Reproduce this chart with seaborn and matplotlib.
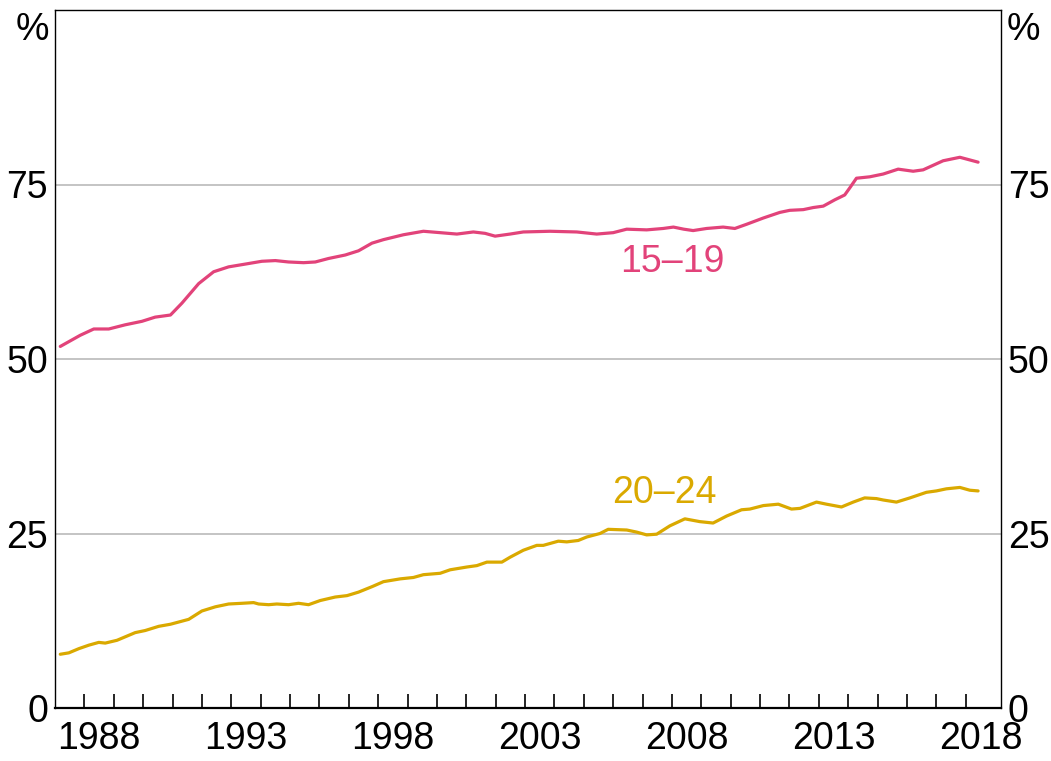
import numpy as np
import pandas as pd
import matplotlib
matplotlib.use("Agg")
import matplotlib.pyplot as plt
import seaborn as sns

# ---- data ----
years_1519 = [1987.18, 1987.86, 1988.32, 1988.83, 1989.39, 1989.96, 1990.41, 1990.93,
              1991.32, 1991.89, 1992.40, 1992.91, 1993.48, 1994.04, 1994.50, 1994.95,
              1995.46, 1995.86, 1996.31, 1996.88, 1997.33, 1997.79, 1998.18, 1998.86,
              1999.54, 2000.11, 2000.68, 2001.24, 2001.64, 2001.98, 2002.49, 2002.94,
              2003.85, 2004.76, 2005.44, 2006.00, 2006.46, 2007.14, 2007.70, 2008.05,
              2008.40, 2008.72, 2009.18, 2009.74, 2010.14, 2010.54, 2011.11, 2011.67,
              2012.01, 2012.47, 2012.81, 2013.15, 2013.54, 2013.88, 2014.05, 2014.28,
              2014.73, 2015.19, 2015.70, 2016.21, 2016.55, 2017.23, 2017.80, 2018.42]
values_1519 = [51.8, 53.4, 54.3, 54.3, 54.9, 55.4, 56.0, 56.3,
               58.0, 60.8, 62.5, 63.2, 63.6, 64.0, 64.1, 63.9,
               63.8, 63.9, 64.4, 64.9, 65.5, 66.6, 67.1, 67.8,
               68.3, 68.1, 67.9, 68.2, 68.0, 67.6, 67.9, 68.2,
               68.3, 68.2, 67.9, 68.1, 68.6, 68.5, 68.7, 68.9,
               68.6, 68.4, 68.7, 68.9, 68.7, 69.3, 70.2, 71.0,
               71.3, 71.4, 71.7, 71.9, 72.8, 73.5, 74.5, 75.9,
               76.1, 76.5, 77.2, 76.9, 77.1, 78.4, 78.9, 78.2]

years_2024 = [1987.18, 1987.47, 1987.81, 1988.15, 1988.49, 1988.71, 1989.11, 1989.73,
              1990.07, 1990.53, 1990.93, 1991.55, 1992.00, 1992.46, 1992.91, 1993.36,
              1993.76, 1993.93, 1994.27, 1994.55, 1994.95, 1995.29, 1995.63, 1996.03,
              1996.54, 1996.94, 1997.33, 1997.80, 1998.18, 1998.75, 1999.20, 1999.54,
              2000.11, 2000.45, 2001.02, 2001.36, 2001.70, 2002.21, 2002.49, 2002.94,
              2003.40, 2003.62, 2004.13, 2004.42, 2004.81, 2005.10, 2005.55, 2005.83,
              2006.46, 2006.80, 2007.14, 2007.48, 2007.93, 2008.44, 2008.95, 2009.40,
              2009.86, 2010.37, 2010.65, 2011.11, 2011.62, 2012.07, 2012.36, 2012.92,
              2013.26, 2013.77, 2014.17, 2014.56, 2014.96, 2015.19, 2015.64, 2016.10,
              2016.66, 2017.00, 2017.34, 2017.80, 2018.14, 2018.42]
values_2024 = [7.7, 7.9, 8.5, 9.0, 9.4, 9.3, 9.7, 10.8,
               11.1, 11.7, 12.0, 12.7, 13.9, 14.5, 14.9, 15.0,
               15.1, 14.9, 14.8, 14.9, 14.8, 15.0, 14.8, 15.4,
               15.9, 16.1, 16.6, 17.4, 18.1, 18.5, 18.7, 19.1,
               19.3, 19.8, 20.2, 20.4, 20.9, 20.9, 21.6, 22.6,
               23.3, 23.3, 23.9, 23.8, 24.0, 24.5, 25.0, 25.6,
               25.5, 25.2, 24.8, 24.9, 26.1, 27.1, 26.7, 26.5,
               27.5, 28.4, 28.5, 29.0, 29.2, 28.5, 28.6, 29.5,
               29.2, 28.8, 29.5, 30.1, 30.0, 29.8, 29.5, 30.1,
               30.9, 31.1, 31.4, 31.6, 31.2, 31.1]

series_names = ["15–19", "20–24"]
series_colors = ["#E2437A", "#DAA900"]
y_ticks = [0, 25, 50, 75]
y_tick_labels = ["0", "25", "50", "75"]
x_label_years = [1988, 1993, 1998, 2003, 2008, 2013, 2018]

df = pd.concat([
    pd.DataFrame({"year": years_1519, "value": values_1519, "series": series_names[0]}),
    pd.DataFrame({"year": years_2024, "value": values_2024, "series": series_names[1]}),
], ignore_index=True)

# ---- styling ----
sns.set_theme(style="white")
plt.rcParams["font.family"] = ["Liberation Sans", "DejaVu Sans"]
FS = 27

fig = plt.figure(figsize=(10.51, 7.61), dpi=100)
ax = fig.add_axes([55 / 1051, 1 - 708 / 761, (1001 - 55) / 1051, (708 - 10) / 761])

sns.lineplot(data=df, x="year", y="value", hue="series", palette=series_colors,
             hue_order=series_names, linewidth=2.3, legend=False, ax=ax, sort=False)

ax.set_xlim(1987.0, 2019.2)
ax.set_ylim(0, 100)
ax.set_xlabel("")
ax.set_ylabel("")

# gridlines
for yv in [25, 50, 75]:
    ax.axhline(yv, color="#b4b4b4", linewidth=1.1, zorder=0)

# spines
for side in ["left", "right", "top"]:
    ax.spines[side].set_visible(True)
    ax.spines[side].set_color("black")
    ax.spines[side].set_linewidth(1.0)
ax.spines["bottom"].set_visible(True)
ax.spines["bottom"].set_color("black")
ax.spines["bottom"].set_linewidth(1.6)

# x ticks: yearly inward ticks, labels centred in the year
ax.set_xticks(list(range(1988, 2019)))
ax.set_xticklabels([])
ax.tick_params(axis="x", which="major", direction="in", length=10, width=1.2,
               color="black", bottom=True, top=False)
ax.set_xticks([y + 0.5 for y in x_label_years], minor=True)
ax.set_xticklabels([str(y) for y in x_label_years], minor=True)
ax.tick_params(axis="x", which="minor", length=0, labelsize=FS, pad=9.5, labelcolor="black")

# y ticks on both sides, no tick marks
ax.set_yticks(y_ticks)
ax.set_yticklabels(y_tick_labels)
ax.tick_params(axis="y", which="both", length=0, labelsize=FS, pad=5,
               left=True, right=True, labelleft=True, labelright=True, labelcolor="black")

# "%" unit labels at top
ax.text(-0.006, 0.997, "%", transform=ax.transAxes, ha="right", va="top", fontsize=FS, color="black")
ax.text(1.006, 0.997, "%", transform=ax.transAxes, ha="left", va="top", fontsize=FS, color="black")

# series labels
ax.text(2008.0, 63.9, series_names[0], color=series_colors[0], fontsize=FS, ha="center", va="center")
ax.text(2007.75, 30.8, series_names[1], color=series_colors[1], fontsize=FS, ha="center", va="center")

fig.savefig("out.png", dpi=100)
